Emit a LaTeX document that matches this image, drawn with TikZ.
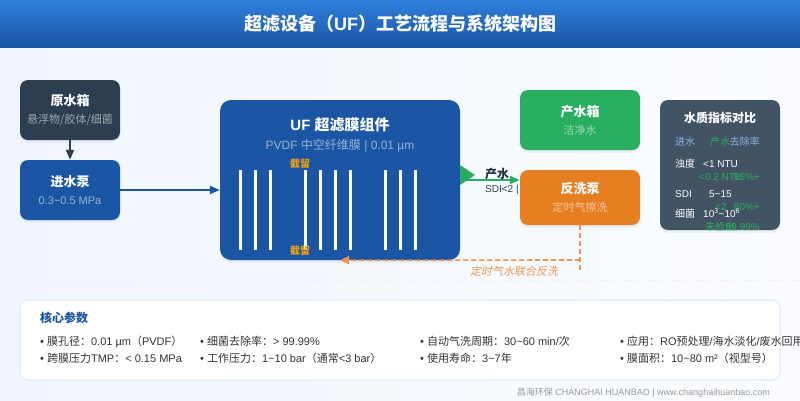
\documentclass[tikz,border=0pt]{standalone}
\usepackage{fontspec}
\setmainfont{Liberation Sans}
\newfontfamily\zhfont{Noto Sans CJK SC}
\newfontfamily\zhslant[FakeSlant=0.2]{Noto Sans CJK SC}
\newcommand{\zh}[1]{{\zhfont #1}}
\newcommand{\fsz}[1]{\fontsize{#1}{#1}\selectfont}
\newcommand{\boxlabel}[3]{{\fontsize{13}{13}\selectfont\bfseries\zh{#1}}\\[6pt]{\fontsize{11}{11}\selectfont\color{#3}#2}}
\usetikzlibrary{arrows.meta,shadows}
\definecolor{ufblue}{HTML}{1A56A4}
\definecolor{headblue}{HTML}{2F7EDC}
\definecolor{tankdark}{HTML}{2C3E50}
\definecolor{prodgreen}{HTML}{27AE60}
\definecolor{backorange}{HTML}{E67E22}
\definecolor{dashorange}{HTML}{EB9650}
\definecolor{holdorange}{HTML}{F39C12}
\definecolor{panelgrey}{HTML}{425364}
\definecolor{headtext}{HTML}{8DB4DE}
\definecolor{bordblue}{HTML}{E3EEF9}
\definecolor{pageleft}{HTML}{F1F6FE}
\definecolor{pageright}{HTML}{FAFCFF}
\tikzset{
  softshadow/.style={drop shadow={shadow xshift=0pt,shadow yshift=-2.5pt,opacity=.08,fill=ufblue}},
  boxnode/.style={draw=none,rounded corners=8pt,minimum width=#1,align=center,text=white,inner sep=0pt,softshadow},
  flowline/.style={line width=2pt,-{Triangle[length=10pt,width=8pt]}},
  backline/.style={dashorange,line width=1.6pt,dash pattern=on 5pt off 3pt},
  tabletext/.style={anchor=base west,inner sep=0pt,font=\fsz{10}},
  tablerate/.style={anchor=base east,inner sep=0pt,font=\fsz{10},text=prodgreen},
  paramtext/.style={anchor=base west,inner sep=0pt,font=\fsz{11},text=black!80}
}
\begin{document}
\begin{tikzpicture}[x=1pt,y=-1pt]
  \useasboundingbox (0,0) rectangle (800,400);
  \shade[left color=pageleft,right color=pageright] (0,0) rectangle (800,400);
  \node (header) [anchor=north west,minimum width=800pt,minimum height=47.5pt,inner sep=0pt,outer sep=0pt,
    top color=headblue,bottom color=ufblue,text=white,font=\fsz{18}\bfseries] at (0,0) {\zh{超滤设备（}UF\zh{）工艺流程与系统架构图}};
  \coordinate (sepleft) at (0,280);
  \coordinate (sepright) at (800,280);
  \draw[black!6,dashed] (sepleft) -- (sepright);

  \node (rawtank) [boxnode=100pt,fill=tankdark,minimum height=60pt] at (70,110) {\boxlabel{原水箱}{\zh{悬浮物/胶体/细菌}}{tankdark!45!white}};
  \node (feedpump) [boxnode=100pt,fill=ufblue,minimum height=60pt] at (70,190) {\boxlabel{进水泵}{0.3\textasciitilde0.5 MPa}{ufblue!45!white}};
  \node (ufmodule) [boxnode=240pt,fill=ufblue,minimum height=160pt,rounded corners=11pt] at (340,180) {};
  \node (uftitle) [text=white,inner sep=0pt,font=\fsz{15}\bfseries] at (340,125) {UF \zh{超滤膜组件}};
  \node (ufsub) [text=ufblue!45!white,inner sep=0pt,font=\fsz{12}] at (340,146) {PVDF \zh{中空纤维膜} | 0.01 µm};
  \foreach \fx in {240,255,270,305,320,335,350,385,400,415}
    \draw[white,line width=3pt] (\fx,170) -- (\fx,250);
  \node (holdtop) [text=holdorange,inner sep=0pt,font=\fsz{10}\bfseries] at (300,164) {\zh{截留}};
  \node (holdbot) [text=holdorange,inner sep=0pt,font=\fsz{10}\bfseries] at (300,251) {\zh{截留}};
  \node (prodtank) [boxnode=120pt,fill=prodgreen,minimum height=60pt] at (580,120) {\boxlabel{产水箱}{\zh{洁净水}}{prodgreen!45!white}};
  \node (backpump) [boxnode=120pt,fill=backorange,minimum height=55pt] at (580,197.5) {\boxlabel{反洗泵}{\zh{定时气擦洗}}{backorange!45!white}};

  \draw[flowline,tankdark] (rawtank) -- (feedpump);
  \draw[flowline,ufblue] (feedpump.east) -- (feedpump.east -| ufmodule.west);
  \fill[prodgreen] (460,165) -- (475,175) -- (460,185) -- cycle;
  \draw[flowline,prodgreen] (ufmodule.east) -- (ufmodule.east -| backpump.west);
  \node (prodlabel) [inner sep=0pt,text=tankdark!80!black,font=\fsz{12}\bfseries] at (497,174) {\zh{产水}};
  \node (prodnote) [anchor=base west,inner sep=0pt,text=tankdark,font=\fsz{10}] at (485,192) {SDI<2 |};

  \coordinate (backturn) at (580,260);
  \coordinate (backdown) at (580,270);
  \draw[backline] (backpump.south) -- (backdown);
  \draw[backline,-{Triangle[length=9pt,width=8pt]}] (backturn) -- (ufmodule.south);
  \node (backlabel) [text=dashorange,inner sep=0pt,font=\fsz{11}] at (514,271) {\zhslant 定时气水联合反洗};

  \node (qualpanel) [boxnode=120pt,fill=panelgrey,minimum height=130pt] at (720,165) {};
  \node (qualtitle) [text=white,inner sep=0pt,font=\fsz{12}\bfseries] at (720,118) {\zh{水质指标对比}};
  \node (hdin) [tabletext,text=headtext] at (675,145) {\zh{进水}};
  \node (hdout) [tabletext,text=prodgreen] at (710,145) {\zh{产水}};
  \node (hdrate) [tablerate,text=headtext] at (760,145) {\zh{去除率}};
  \node (rowa) [tabletext,text=white] at (675,167) {\zh{浊度}};
  \node (rowain) [tabletext,text=white] at (703,167) {<1 NTU};
  \node (rowaout) [tabletext,text=prodgreen] at (699,180) {<0.2 NTU};
  \node (rowarate) [tablerate] at (760,180) {95\%+};
  \node (rowb) [tabletext,text=white] at (675,197) {SDI};
  \node (rowbin) [tabletext,text=white] at (709,197) {5\textasciitilde15};
  \node (rowbout) [tabletext,text=prodgreen] at (715,210) {<2};
  \node (rowbrate) [tablerate] at (760,210) {80\%+};
  \node (rowc) [tabletext,text=white] at (675,217) {\zh{细菌}};
  \node (rowcin) [tabletext,text=white] at (703,217) {10\textsuperscript{3}\textasciitilde10\textsuperscript{6}};
  \node (rowcout) [tabletext,text=prodgreen] at (705,230) {\zh{未检出}};
  \node (rowcrate) [tablerate] at (760,230) {99.99\%};

  \node (parampanel) [draw=bordblue,line width=1.5pt,fill=white,rounded corners=8pt,inner sep=0pt,minimum width=760pt,minimum height=80pt] at (400,340) {};
  \node (paramtitle) [anchor=base west,inner sep=0pt,text=ufblue,font=\fsz{12}\bfseries] at (40,322) {\zh{核心参数}};
  \node (parama) [paramtext] at (40,345) {• \zh{膜孔径：}0.01 µm\zh{（}PVDF\zh{）}};
  \node (paramb) [paramtext] at (40,362) {• \zh{跨膜压力}TMP\zh{：}< 0.15 MPa};
  \node (paramc) [paramtext] at (200,345) {• \zh{细菌去除率：}> 99.99\%};
  \node (paramd) [paramtext] at (200,362) {• \zh{工作压力：}1\textasciitilde10 bar\zh{（通常}<3 bar\zh{）}};
  \node (parame) [paramtext] at (420,345) {• \zh{自动气洗周期：}30\textasciitilde60 min/\zh{次}};
  \node (paramf) [paramtext] at (420,362) {• \zh{使用寿命：}3\textasciitilde7\zh{年}};
  \node (paramg) [paramtext] at (620,345) {• \zh{应用：}RO\zh{预处理}/\zh{海水淡化}/\zh{废水回用}};
  \node (paramh) [paramtext] at (620,362) {• \zh{膜面积：}10\textasciitilde80 m²\zh{（视型号）}};
  \node (footer) [anchor=base east,inner sep=0pt,text=black!40,font=\fsz{9}] at (770,395) {\zh{昌海环保} CHANGHAI HUANBAO | www.changhaihuanbao.com};
\end{tikzpicture}
\end{document}
